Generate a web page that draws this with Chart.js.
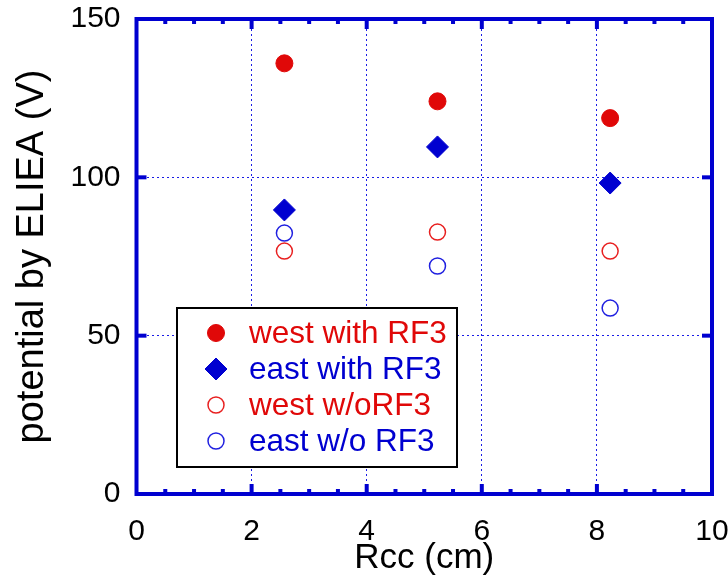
<!DOCTYPE html>
<html>
<head>
<meta charset="utf-8">
<script src="https://cdn.jsdelivr.net/npm/chart.js@4/dist/chart.umd.min.js"></script>
<style>
  html, body { margin: 0; padding: 0; background: #fff; }
  canvas { display: block; }
</style>
</head>
<body>
<canvas id="chart" width="728" height="581"></canvas>
<script>
// Rcc positions (cm)
const rccValues = [2.57, 5.23, 8.23];

// potential by ELIEA (V)
const westWithRF3 = [136, 124, 118.7];
const eastWithRF3 = [89.7, 109.6, 98.2];
const westWithoutRF3 = [76.7, 82.7, 76.7];
const eastWithoutRF3 = [82.4, 72, 58.7];

const seriesLabels = ['west with RF3', 'east with RF3', 'west w/oRF3', 'east w/o RF3'];

const xTicks = [0, 2, 4, 6, 8, 10];
const yTicks = [0, 50, 100, 150];

const RED = '#e00808';
const BLUE = '#0000d0';
const FONT = "'Liberation Sans', Arial, sans-serif";

function toPoints(ys) {
    return ys.map((y, i) => ({ x: rccValues[i], y: y }));
}

// draw one marker of a dataset (used by the legend)
function drawMarker(ctx, ds, x, y) {
    ctx.save();
    ctx.beginPath();
    const r = ds.pointRadius;
    if (ds.pointStyle === 'rectRot') {
        ctx.moveTo(x, y - r);
        ctx.lineTo(x + r, y);
        ctx.lineTo(x, y + r);
        ctx.lineTo(x - r, y);
        ctx.closePath();
    } else {
        ctx.arc(x, y, r, 0, Math.PI * 2);
    }
    if (ds.pointBackgroundColor !== 'transparent') {
        ctx.fillStyle = ds.pointBackgroundColor;
        ctx.fill();
    }
    ctx.lineWidth = ds.pointBorderWidth;
    ctx.strokeStyle = ds.pointBorderColor;
    ctx.stroke();
    ctx.restore();
}

// no extra room for overflowing end labels
function fixPadding(scale) {
    scale.paddingTop = 0;
    scale.paddingBottom = 0;
    scale.paddingLeft = 0;
    scale.paddingRight = 0;
}

// thick frame + inward ticks on all four sides
const framePlugin = {
    id: 'frame',
    afterDatasetsDraw(chart) {
        const { ctx, chartArea: a, scales } = chart;
        const xs = scales.x, ys = scales.y;
        ctx.save();
        ctx.fillStyle = BLUE;
        // x ticks every 0.5, major at every 2
        for (let v = 0.5; v < 10; v += 0.5) {
            const px = xs.getPixelForValue(v);
            const len = (Math.abs(v % 2) < 1e-6) ? 10 : 5;
            ctx.fillRect(px - 2, a.bottom - len, 4, len);
            ctx.fillRect(px - 2, a.top, 4, len);
        }
        // y ticks at 50, 100
        [50, 100].forEach(v => {
            const py = ys.getPixelForValue(v);
            ctx.fillRect(a.left, py - 2, 10, 4);
            ctx.fillRect(a.right - 10, py - 2, 10, 4);
        });
        ctx.lineWidth = 4;
        ctx.strokeStyle = BLUE;
        ctx.strokeRect(a.left, a.top, a.right - a.left, a.bottom - a.top);
        ctx.restore();
    },
    afterDraw(chart) {
        // legend box inside the plot
        const { ctx } = chart;
        const bx = 177, by = 308, bw = 280, bh = 159;
        ctx.save();
        ctx.fillStyle = '#fff';
        ctx.fillRect(bx, by, bw, bh);
        ctx.lineWidth = 2;
        ctx.strokeStyle = '#000';
        ctx.strokeRect(bx, by, bw, bh);
        const rowY = [333, 369, 405, 441];
        chart.data.datasets.forEach((ds, i) => {
            drawMarker(ctx, ds, 216, rowY[i]);
            ctx.fillStyle = ds.textColor;
            ctx.font = '31.5px ' + FONT;
            ctx.textBaseline = 'middle';
            ctx.textAlign = 'left';
            ctx.fillText(ds.label, 249, rowY[i] + 1);
        });
        ctx.restore();
    }
};

const gridColor = '#1a1ae6';

new Chart(document.getElementById('chart'), {
    type: 'scatter',
    data: {
        datasets: [
            {
                label: seriesLabels[0],
                data: toPoints(westWithRF3),
                pointStyle: 'circle',
                pointRadius: 8.5,
                pointBackgroundColor: RED,
                pointBorderColor: RED,
                pointBorderWidth: 1,
                textColor: RED
            },
            {
                label: seriesLabels[1],
                data: toPoints(eastWithRF3),
                pointStyle: 'rectRot',
                pointRadius: 11,
                pointBackgroundColor: BLUE,
                pointBorderColor: BLUE,
                pointBorderWidth: 1,
                textColor: BLUE
            },
            {
                label: seriesLabels[2],
                data: toPoints(westWithoutRF3),
                pointStyle: 'circle',
                pointRadius: 8,
                pointBackgroundColor: 'transparent',
                pointBorderColor: '#e82020',
                pointBorderWidth: 1.5,
                textColor: RED
            },
            {
                label: seriesLabels[3],
                data: toPoints(eastWithoutRF3),
                pointStyle: 'circle',
                pointRadius: 8,
                pointBackgroundColor: 'transparent',
                pointBorderColor: '#2020e0',
                pointBorderWidth: 1.5,
                textColor: BLUE
            }
        ]
    },
    options: {
        responsive: false,
        animation: false,
        layout: { padding: { top: 19, right: 16, left: 0, bottom: 0 } },
        plugins: {
            legend: { display: false },
            tooltip: { enabled: false }
        },
        scales: {
            x: {
                type: 'linear',
                min: 0,
                max: 10,
                afterBuildTicks: (scale) => { scale.ticks = xTicks.map(v => ({ value: v })); },
                afterFit: (scale) => { scale.height = 87; fixPadding(scale); },
                border: { display: false, dash: [2, 3] },
                grid: {
                    drawTicks: false,
                    lineWidth: 1,
                    color: (c) => (c.tick && (c.tick.value === 0 || c.tick.value === 10)) ? 'transparent' : gridColor
                },
                ticks: {
                    padding: 20,
                    color: '#000',
                    font: { family: FONT, size: 30 },
                    maxRotation: 0
                },
                title: {
                    display: true,
                    text: 'Rcc (cm)',
                    color: '#000',
                    font: { family: FONT, size: 35 },
                    padding: { top: 0, bottom: 2 }
                }
            },
            y: {
                type: 'linear',
                min: 0,
                max: 150,
                afterBuildTicks: (scale) => { scale.ticks = yTicks.map(v => ({ value: v })); },
                afterFit: (scale) => { scale.width = 136.5; fixPadding(scale); },
                border: { display: false, dash: [2, 3] },
                grid: {
                    drawTicks: false,
                    lineWidth: 1,
                    color: (c) => (c.tick && (c.tick.value === 0 || c.tick.value === 150)) ? 'transparent' : gridColor
                },
                ticks: {
                    padding: 16,
                    color: '#000',
                    font: { family: FONT, size: 30 }
                },
                title: {
                    display: true,
                    text: 'potential by ELIEA (V)',
                    color: '#000',
                    font: { family: FONT, size: 38 },
                    padding: { top: 10, bottom: 0 }
                }
            }
        }
    },
    plugins: [framePlugin]
});
</script>
</body>
</html>
